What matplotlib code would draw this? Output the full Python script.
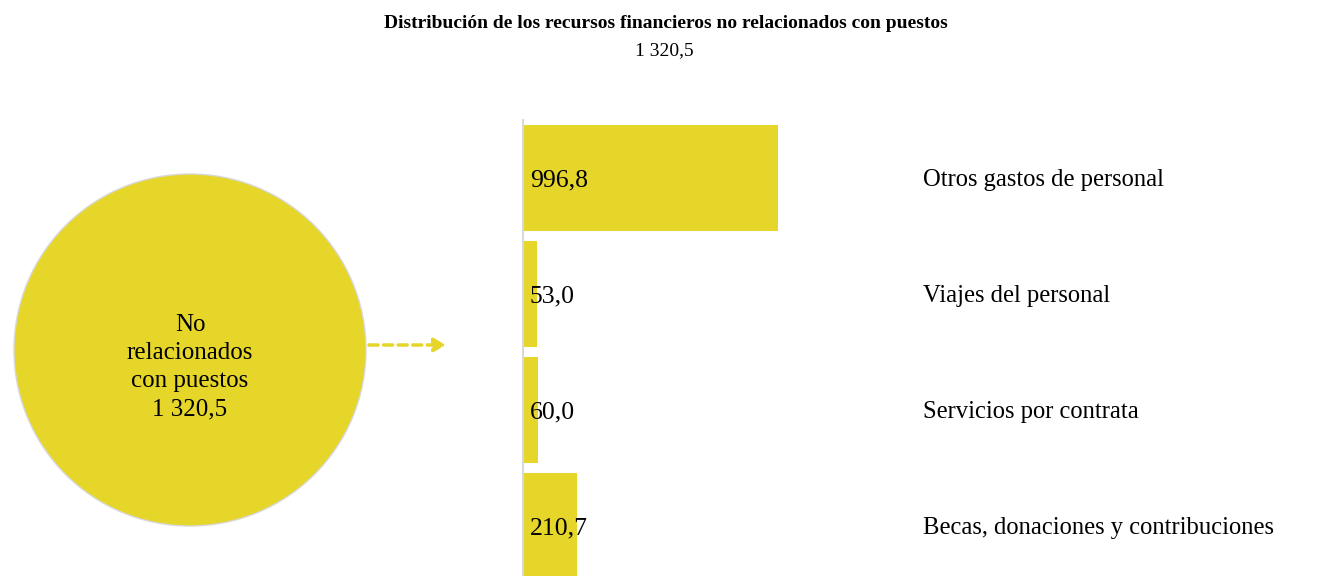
import matplotlib
matplotlib.use("Agg")
import matplotlib.pyplot as plt
from matplotlib.patches import Circle, FancyArrowPatch

# Data
categories = ["Otros gastos de personal", "Viajes del personal",
              "Servicios por contrata", "Becas, donaciones y contribuciones"]
values = [996.8, 53.0, 60.0, 210.7]
total_label = "No\nrelacionados\ncon puestos"
title = "Distribución de los recursos financieros no relacionados con puestos"

YELLOW = "#E6D62A"
FONT = "Liberation Serif"


def fmt(v):
    s = f"{v:,.1f}"
    return s.replace(",", " ").replace(".", ",")


total = sum(values)

W, H = 1317, 576
fig = plt.figure(figsize=(W / 100, H / 100), dpi=100)

# Overlay axes in pixel coordinates for the circle, arrow and texts
ov = fig.add_axes([0, 0, 1, 1])
ov.set_xlim(0, W)
ov.set_ylim(H, 0)
ov.axis("off")

ov.text(666, 24, title, ha="center", va="center", fontsize=14,
        fontweight="bold", family=FONT)
ov.text(664, 51, fmt(total), ha="center", va="center", fontsize=14, family=FONT)

ov.add_patch(Circle((190, 350), 176, facecolor=YELLOW, edgecolor="#d8d8d8",
                    linewidth=1.0, zorder=1))
ov.text(190, 367, total_label + "\n" + fmt(total), ha="center", va="center",
        fontsize=18, family=FONT, linespacing=1.36, zorder=2)

ov.add_patch(FancyArrowPatch((369, 345), (446, 345), arrowstyle="-|>,head_length=7,head_width=4",
                             color=YELLOW, linestyle=(0, (2.6, 1.6)), linewidth=2.5,
                             shrinkA=0, shrinkB=0, mutation_scale=1, zorder=2))

# Bar axes
x0, x1 = 523, W
y_top, y_bot = 120, H
ax = fig.add_axes([x0 / W, 1 - y_bot / H, (x1 - x0) / W, (y_bot - y_top) / H])
ax.patch.set_alpha(0)
px_per_unit = 255 / 996.8
ax.set_xlim(0, (x1 - x0) / px_per_unit)
ax.set_ylim(3.43, -0.5)
pos = list(range(len(values)))
ax.barh(pos, values, height=0.91, color=YELLOW, zorder=1)
for p, v, c in zip(pos, values, categories):
    ax.text(27, p + 0.02, fmt(v), ha="left", va="center", fontsize=18.5, family=FONT, zorder=3)
    ax.text((923 - x0) / px_per_unit, p + 0.02, c, ha="left", va="center", fontsize=17.7, family=FONT)

for s in ["top", "right", "bottom"]:
    ax.spines[s].set_visible(False)
ax.spines["left"].set_color("#d9d9d9")
ax.spines["left"].set_linewidth(1.5)
ax.set_xticks([])
ax.set_yticks([])

fig.savefig("out.png", dpi=100)
